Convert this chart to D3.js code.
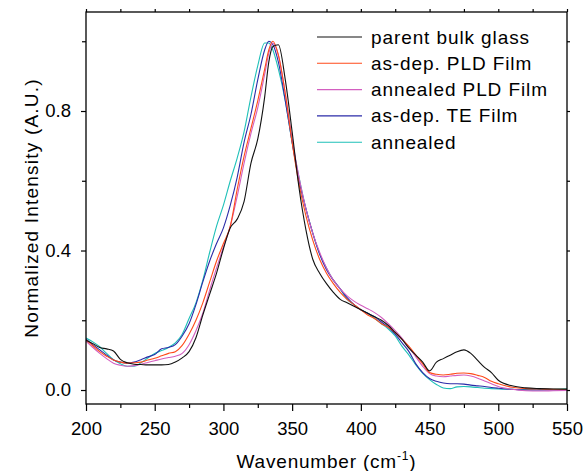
<!DOCTYPE html>
<html><head><meta charset="utf-8">
<script src="https://cdn.jsdelivr.net/npm/d3@7"></script>
<style>
html,body{margin:0;padding:0;background:#fff;}
svg{display:block;font-family:"Liberation Sans",Arial,Helvetica,sans-serif;}
</style></head>
<body>
<svg id="chart" width="583" height="471"></svg>
<script>
const wavenumber = [200,205,210,215,220,225,230,235,240,245,250,255,260,265,270,275,280,285,290,295,300,305,310,315,320,325,330,333,336,340,345,350,355,360,365,370,375,380,385,390,395,400,405,410,415,420,425,430,435,440,445,450,455,460,465,470,475,480,485,490,495,500,510,520,530,540,550];

const parentBulk = [0.143,0.133,0.122,0.118,0.112,0.088,0.078,0.074,0.073,0.072,0.072,0.072,0.073,0.080,0.092,0.110,0.150,0.215,0.275,0.335,0.405,0.465,0.490,0.540,0.650,0.720,0.840,0.940,0.985,0.990,0.890,0.740,0.580,0.460,0.375,0.335,0.305,0.280,0.260,0.250,0.240,0.230,0.220,0.210,0.200,0.185,0.165,0.145,0.120,0.100,0.080,0.055,0.080,0.090,0.100,0.110,0.115,0.105,0.085,0.065,0.050,0.028,0.012,0.006,0.004,0.003,0.002];

const asDepPLD = [0.143,0.127,0.110,0.097,0.086,0.080,0.077,0.078,0.080,0.086,0.091,0.098,0.105,0.110,0.128,0.160,0.200,0.250,0.310,0.370,0.420,0.470,0.575,0.670,0.750,0.830,0.920,0.975,1.000,0.960,0.850,0.710,0.590,0.500,0.430,0.375,0.335,0.305,0.280,0.260,0.245,0.230,0.215,0.205,0.190,0.180,0.165,0.145,0.125,0.100,0.075,0.050,0.045,0.043,0.045,0.048,0.049,0.047,0.042,0.036,0.025,0.018,0.008,0.004,0.003,0.002,0.002];

const annealedPLD = [0.140,0.122,0.105,0.090,0.077,0.071,0.068,0.070,0.074,0.079,0.084,0.089,0.093,0.097,0.105,0.130,0.170,0.220,0.287,0.350,0.410,0.470,0.555,0.650,0.735,0.810,0.905,0.965,0.995,0.960,0.850,0.720,0.610,0.520,0.450,0.395,0.350,0.315,0.290,0.270,0.255,0.243,0.233,0.222,0.208,0.190,0.170,0.148,0.122,0.095,0.068,0.047,0.040,0.038,0.040,0.042,0.043,0.040,0.034,0.026,0.018,0.010,0.002,-0.002,-0.003,-0.002,-0.001];

const asDepTE = [0.146,0.130,0.115,0.100,0.086,0.080,0.077,0.080,0.087,0.095,0.102,0.118,0.122,0.130,0.155,0.190,0.245,0.310,0.370,0.420,0.465,0.530,0.610,0.710,0.790,0.890,0.975,1.000,0.990,0.940,0.830,0.710,0.600,0.520,0.450,0.390,0.345,0.315,0.290,0.265,0.245,0.230,0.220,0.210,0.195,0.180,0.160,0.135,0.110,0.075,0.050,0.033,0.025,0.020,0.018,0.018,0.017,0.014,0.012,0.010,0.007,0.005,0.002,0.000,0.000,0.000,0.000];

const annealedTE = [0.149,0.138,0.124,0.105,0.087,0.075,0.068,0.068,0.078,0.092,0.105,0.113,0.122,0.135,0.160,0.205,0.250,0.315,0.395,0.470,0.530,0.600,0.665,0.740,0.840,0.930,0.995,0.995,0.975,0.920,0.830,0.710,0.610,0.520,0.450,0.390,0.350,0.315,0.290,0.260,0.245,0.230,0.220,0.205,0.190,0.175,0.155,0.125,0.100,0.072,0.048,0.030,0.016,0.006,0.004,0.009,0.010,0.009,0.007,0.005,0.004,0.003,0.002,0.001,0.001,0.002,0.004];

const seriesNames = ["parent bulk glass","as-dep. PLD Film","annealed PLD Film","as-dep. TE Film","annealed"];
const seriesColors = ["#111111","#ff4a1a","#d35fc0","#2b2ba8","#1ec0b8"];
const seriesValues = [parentBulk, asDepPLD, annealedPLD, asDepTE, annealedTE];

const xMajorTicks = [200,250,300,350,400,450,500,550];
const xMinorTicks = [225,275,325,375,425,475,525];
const yMajorTicks = [0.0,0.4,0.8];
const yMinorTicks = [0.2,0.6,1.0];
const xTitle = "Wavenumber (cm";
const xTitleSup = "-1";
const yTitle = "Normalized Intensity (A.U.)";

const svg = d3.select("#chart");
const L = 86, R = 567, T = 12, B = 404;
const x = d3.scaleLinear().domain([200,550]).range([L,R]);
const y = d3.scaleLinear().domain([-0.0401,1.0839]).range([B,T]);

svg.append("defs").append("clipPath").attr("id","clip")
  .append("rect").attr("x",L).attr("y",T).attr("width",R-L).attr("height",B-T);

const line = d3.line().x(d=>x(d[0])).y(d=>y(d[1])).curve(d3.curveMonotoneX);
const drawOrder = [4,3,2,1,0];
const g = svg.append("g").attr("clip-path","url(#clip)");
drawOrder.forEach(i=>{
  g.append("path")
    .datum(wavenumber.map((w,k)=>[w,seriesValues[i][k]]))
    .attr("d",line).attr("fill","none")
    .attr("stroke",seriesColors[i]).attr("stroke-width",1.1);
});

const fontTick = 18.5;
const axBottom = svg.append("g").attr("transform",`translate(0,${B})`)
  .call(d3.axisBottom(x).tickValues(xMajorTicks).tickSize(7).tickSizeOuter(0).tickPadding(11).tickFormat(d3.format("d")));
const axBottomMinor = svg.append("g").attr("transform",`translate(0,${B})`)
  .call(d3.axisBottom(x).tickValues(xMinorTicks).tickSize(4).tickSizeOuter(0).tickFormat(""));
const axLeft = svg.append("g").attr("transform",`translate(${L},0)`)
  .call(d3.axisLeft(y).tickValues(yMajorTicks).tickSize(5).tickSizeOuter(0).tickPadding(10).tickFormat(d3.format(".1f")));
const axLeftMinor = svg.append("g").attr("transform",`translate(${L},0)`)
  .call(d3.axisLeft(y).tickValues(yMinorTicks).tickSize(4).tickSizeOuter(0).tickFormat(""));
const axTop = svg.append("g").attr("transform",`translate(0,${T})`)
  .call(d3.axisTop(x).tickValues(xMajorTicks.concat(xMinorTicks)).tickSize(3).tickSizeOuter(0).tickFormat(""));
const axRight = svg.append("g").attr("transform",`translate(${R},0)`)
  .call(d3.axisRight(y).tickValues(yMajorTicks.concat(yMinorTicks)).tickSize(3).tickSizeOuter(0).tickFormat(""));

[axBottom,axBottomMinor,axLeft,axLeftMinor,axTop,axRight].forEach(a=>{
  a.select(".domain").remove();
  a.selectAll(".tick line").attr("stroke","#000").attr("stroke-width",1.2);
  a.selectAll(".tick text").attr("fill","#000").style("font-size",fontTick+"px")
    .style("font-family",'"Liberation Sans",Arial,sans-serif');
});

svg.append("rect").attr("x",L).attr("y",T).attr("width",R-L).attr("height",B-T)
  .attr("fill","none").attr("stroke","#000").attr("stroke-width",1.3);

const xt = svg.append("text").attr("x",(L+R)/2).attr("y",468).attr("text-anchor","middle")
  .style("font-size","19px").style("letter-spacing","0.8px").attr("fill","#000");
xt.append("tspan").text(xTitle);
xt.append("tspan").text(xTitleSup).attr("dy",-8).style("font-size","12px");
xt.append("tspan").text(")").attr("dy",8);

svg.append("text").attr("transform",`translate(38,${208}) rotate(-90)`).attr("text-anchor","middle")
  .style("font-size","19px").style("letter-spacing","1.2px").attr("fill","#000").text(yTitle);

const lg = svg.append("g");
seriesNames.forEach((n,i)=>{
  const yy = 37 + i*26.3;
  lg.append("line").attr("x1",317).attr("x2",362).attr("y1",yy).attr("y2",yy)
    .attr("stroke",seriesColors[i]).attr("stroke-width",1.1);
  lg.append("text").attr("x",371).attr("y",yy+6.5).text(n)
    .style("font-size","19px").style("letter-spacing","0.9px").attr("fill","#000");
});
</script>
</body></html>
